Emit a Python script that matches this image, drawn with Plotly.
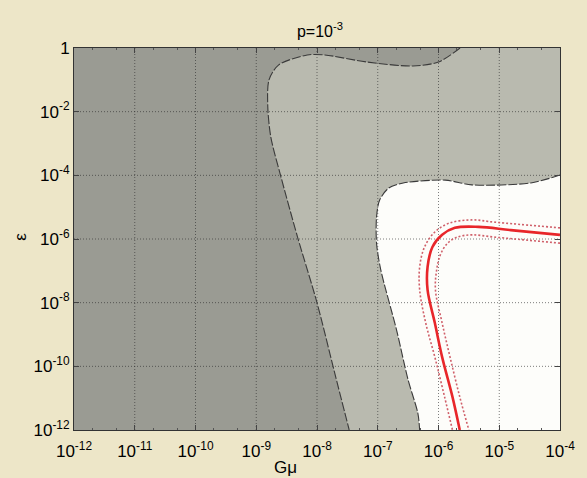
import plotly.graph_objects as go

# ---- data (log10 units) ----
# boundary of the dark (excluded) region: from top edge, along top strip, down to bottom
dark_lx = [-5.645, -6.0, -6.42, -7.18, -7.87, -8.16, -8.63, -8.79, -8.81, -8.76, -8.6, -8.32, -8.0, -7.71, -7.47]
dark_ly = [0.0, -0.44, -0.566, -0.44, -0.22, -0.22, -0.53, -1.0, -1.85, -2.8, -4.0, -5.94, -8.0, -10.2, -12.0]

# boundary of the white (allowed) region: from right edge, along top, down to bottom
white_lx = [-4.0, -4.48, -5.45, -5.89, -6.58, -6.82, -6.97, -7.02, -7.02, -6.95, -6.69, -6.5, -6.34, -6.31]
white_ly = [-3.99, -4.24, -4.3, -4.15, -4.24, -4.4, -4.78, -5.31, -6.13, -6.97, -8.86, -10.43, -11.47, -12.0]

# central red curve
red_lx = [-4.0, -4.81, -5.34, -5.73, -5.94, -6.1, -6.18, -6.18, -6.06, -5.94, -5.77, -5.65]
red_ly = [-5.87, -5.72, -5.62, -5.65, -5.87, -6.25, -6.88, -7.6, -8.64, -9.71, -10.96, -12.0]

# dotted uncertainty curves
outer_lx = [-4.0, -5.08, -5.45, -5.82, -6.06, -6.23, -6.31, -6.31, -6.21, -6.06, -5.9, -5.77]
outer_ly = [-5.65, -5.47, -5.4, -5.5, -5.78, -6.25, -6.88, -7.6, -8.64, -9.71, -10.96, -12.0]
inner_lx = [-4.0, -5.08, -5.45, -5.69, -5.85, -5.97, -6.03, -6.05, -5.94, -5.81, -5.65, -5.5]
inner_ly = [-6.13, -5.94, -5.87, -5.94, -6.13, -6.5, -6.97, -7.6, -8.64, -9.71, -10.96, -12.0]

x_range = [-12, -4]
y_range = [-12, 0]
x_tick_exp = [-12, -11, -10, -9, -8, -7, -6, -5, -4]
y_tick_exp = [-12, -10, -8, -6, -4, -2, 0]
x_tick_text = ["10<sup>%d</sup>" % e for e in x_tick_exp]
y_tick_text = ["1" if e == 0 else "10<sup>%d</sup>" % e for e in y_tick_exp]

P = lambda a: [10 ** v for v in a]


def closed(lx, ly, extra_x, extra_y):
    # repeat the boundary end points so the spline fill follows the boundary line
    xs = [lx[0]] + lx + [lx[-1]] + extra_x
    ys = [ly[0]] + ly + [ly[-1]] + extra_y
    return P(xs), P(ys)


fig = go.Figure()

# dark excluded region
dx, dy = closed(dark_lx, dark_ly, [x_range[0], x_range[0]], [y_range[0], y_range[1]])
fig.add_trace(go.Scatter(
    x=dx, y=dy, fill="toself", fillcolor="#9a9b93", mode="lines", line_shape="spline",
    line=dict(color="rgba(0,0,0,0)", width=0, smoothing=0.8), hoverinfo="skip"))

# white allowed region
wx, wy = closed(white_lx, white_ly, [x_range[1]], [y_range[0]])
fig.add_trace(go.Scatter(
    x=wx, y=wy, fill="toself", fillcolor="#fdfdfa", mode="lines", line_shape="spline",
    line=dict(color="rgba(0,0,0,0)", width=0, smoothing=0.8), hoverinfo="skip"))

# grid lines (drawn above fills)
gx, gy = [], []
for e in x_tick_exp[1:-1]:
    gx += [10 ** e, 10 ** e, None]
    gy += [10 ** y_range[0], 10 ** y_range[1], None]
for e in y_tick_exp[1:-1]:
    gx += [10 ** x_range[0], 10 ** x_range[1], None]
    gy += [10 ** e, 10 ** e, None]
fig.add_trace(go.Scatter(x=gx, y=gy, mode="lines",
                         line=dict(color="rgba(40,40,40,0.6)", width=1, dash="1px,2px"),
                         hoverinfo="skip"))

# boundaries
fig.add_trace(go.Scatter(x=P(dark_lx), y=P(dark_ly), mode="lines", line_shape="spline",
                         line=dict(color="#3a3a3a", width=1.1, dash="9px,2px", smoothing=0.8),
                         hoverinfo="skip"))
fig.add_trace(go.Scatter(x=P(white_lx), y=P(white_ly), mode="lines", line_shape="spline",
                         line=dict(color="#3a3a3a", width=1.1, dash="9px,2px", smoothing=0.8),
                         hoverinfo="skip"))

# red curves
for lx, ly in [(outer_lx, outer_ly), (inner_lx, inner_ly)]:
    fig.add_trace(go.Scatter(x=P(lx), y=P(ly), mode="lines", line_shape="spline",
                             line=dict(color="#d0606a", width=1.6, dash="2px,2px"), hoverinfo="skip"))
fig.add_trace(go.Scatter(x=P(red_lx), y=P(red_ly), mode="lines", line_shape="spline",
                         line=dict(color="#e8262a", width=2.6), hoverinfo="skip"))

font = dict(family="Liberation Sans, Arial, sans-serif", size=17, color="black")

fig.update_layout(
    width=587, height=478,
    margin=dict(l=74, r=17, t=48, b=48),
    paper_bgcolor="#ede6c8",
    plot_bgcolor="#b9baaf",
    showlegend=False,
    font=font,
    title=dict(text="p=10<sup>-3</sup>", x=0.545, xanchor="center", y=0.935, yanchor="middle",
               font=dict(family="Liberation Sans, Arial, sans-serif", size=16, color="black")),
    xaxis=dict(type="log", range=x_range, tickvals=P(x_tick_exp), ticktext=x_tick_text,
               showgrid=False, zeroline=False, ticks="inside", ticklen=5, mirror="allticks",
               showline=True, linecolor="#333", linewidth=1, ticklabelstandoff=6,
               minor=dict(ticks="inside", ticklen=2, tickcolor="#555", showgrid=False),
               tickfont=font),
    yaxis=dict(type="log", range=y_range, tickvals=P(y_tick_exp), ticktext=y_tick_text,
               showgrid=False, zeroline=False, ticks="inside", ticklen=5, mirror="allticks",
               showline=True, linecolor="#333", linewidth=1, tickfont=font),
    annotations=[
        dict(text="Gμ", xref="paper", yref="paper", x=0.435, y=-0.097, showarrow=False,
             xanchor="center", yanchor="middle", font=font),
        dict(text="ε", xref="paper", yref="paper", x=-0.11, y=0.505, showarrow=False,
             textangle=-90, xanchor="center", yanchor="middle", font=font),
    ],
)

fig.write_html("out.html")
